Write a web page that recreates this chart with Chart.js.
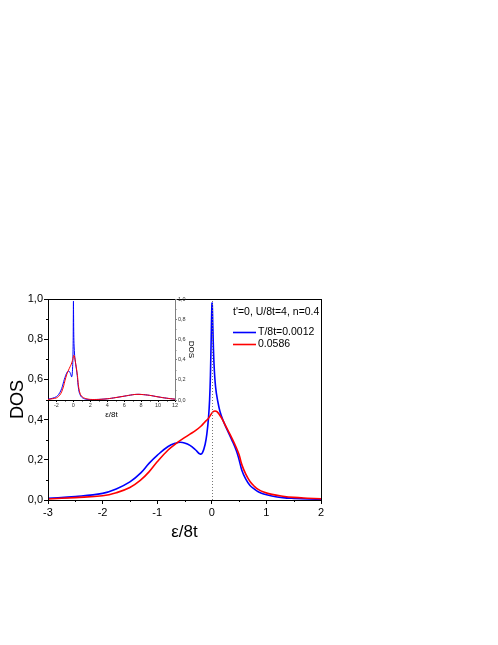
<!DOCTYPE html>
<html>
<head>
<meta charset="utf-8">
<script src="https://cdn.jsdelivr.net/npm/chart.js@4.4.0/dist/chart.umd.min.js"></script>
<style>
    html, body { margin: 0; padding: 0; background: #fff; }
    #quadro { position: relative; width: 498px; height: 645px; }
    canvas { position: absolute; left: 0; top: 0; }
</style>
</head>
<body>
<div id="quadro">
    <canvas id="graficoDOS" width="498" height="645"></canvas>
    <canvas id="graficoInset" width="498" height="645"></canvas>
</div>
<script>
// curva azul, T/8t=0.0012
const energiaAzul = [-3, -2.5, -2, -1.75, -1.5, -1.3, -1.15, -1, -0.8, -0.65, -0.58, -0.5, -0.4, -0.3, -0.215, -0.17, -0.12, -0.09, -0.06, -0.04, -0.025, -0.01, 0.005, 0.02, 0.04, 0.07, 0.11, 0.15, 0.2, 0.28, 0.37, 0.45, 0.5, 0.55, 0.62, 0.7, 0.78, 0.85, 0.95, 1.1, 1.3, 1.5, 1.75, 2];
const dosAzul = [0.008, 0.017, 0.033, 0.055, 0.09, 0.135, 0.182, 0.222, 0.266, 0.284, 0.287, 0.284, 0.272, 0.25, 0.229, 0.236, 0.28, 0.33, 0.41, 0.5, 0.62, 0.82, 0.98, 0.85, 0.68, 0.56, 0.49, 0.44, 0.40, 0.35, 0.297, 0.245, 0.2, 0.148, 0.105, 0.072, 0.054, 0.041, 0.03, 0.02, 0.012, 0.008, 0.005, 0.004];

// curva vermelha, T/8t=0.0586
const energiaVermelha = [-3, -2.5, -2, -1.75, -1.5, -1.3, -1.15, -1, -0.8, -0.65, -0.5, -0.4, -0.3, -0.2, -0.12, -0.08, -0.04, 0, 0.04, 0.1, 0.18, 0.27, 0.37, 0.45, 0.5, 0.55, 0.62, 0.7, 0.78, 0.85, 0.95, 1.1, 1.3, 1.5, 1.75, 2];
const dosVermelha = [0.005, 0.012, 0.021, 0.036, 0.062, 0.1, 0.14, 0.19, 0.249, 0.282, 0.31, 0.328, 0.345, 0.367, 0.39, 0.40, 0.415, 0.432, 0.442, 0.438, 0.407, 0.36, 0.307, 0.26, 0.225, 0.176, 0.13, 0.092, 0.068, 0.053, 0.04, 0.028, 0.019, 0.013, 0.009, 0.006];

// banda alta (so aparece no inset), igual nas duas temperaturas
const energiaCauda = [2.5, 3, 4, 5, 6, 7, 7.5, 8, 9, 10, 11, 12];
const dosCauda = [0.005, 0.006, 0.012, 0.024, 0.038, 0.052, 0.056, 0.055, 0.046, 0.031, 0.018, 0.008];

const rotulos = ['T/8t=0.0012', '0.0586'];
const tituloLegenda = "t'=0, U/8t=4, n=0.4";

const ticksMenoresX = [-2.5, -1.5, -0.5, 0.5, 1.5];
const ticksMenoresY = [0.1, 0.3, 0.5, 0.7, 0.9];
const ticksInsetX = [-2, 0, 2, 4, 6, 8, 10, 12];
const ticksMenoresInsetX = [-1, 1, 3, 5, 7, 9, 11];

const fonte = '"Liberation Sans", Arial, sans-serif';
Chart.defaults.font.family = fonte;
Chart.defaults.color = '#000';

function pontos(xs, ys) {
    return xs.map((x, i) => ({ x: x, y: ys[i] }));
}

function virgula(v) {
    return v.toFixed(1).replace('.', ',');
}

function alinha(p) {
    return Math.round(p) + 0.5;
}

function desenhaTicksMenores(ctx, escala, valores, tamanho, cor) {
    ctx.save();
    ctx.strokeStyle = cor;
    ctx.lineWidth = 1;
    ctx.beginPath();
    valores.forEach(v => {
        const p = alinha(escala.getPixelForValue(v));
        if (escala.isHorizontal()) {
            ctx.moveTo(p, escala.top);
            ctx.lineTo(p, escala.top + tamanho);
        } else if (escala.position === 'left') {
            ctx.moveTo(escala.right, p);
            ctx.lineTo(escala.right - tamanho, p);
        } else {
            ctx.moveTo(escala.left, p);
            ctx.lineTo(escala.left + tamanho, p);
        }
    });
    ctx.stroke();
    ctx.restore();
}

const molduraPrincipal = {
    id: 'molduraPrincipal',
    afterDraw(grafico) {
        const { ctx, chartArea: a, scales } = grafico;
        ctx.save();
        // linha pontilhada em zero
        const x0 = alinha(scales.x.getPixelForValue(0));
        ctx.strokeStyle = '#777';
        ctx.lineWidth = 1;
        ctx.setLineDash([1, 2]);
        ctx.beginPath();
        ctx.moveTo(x0, a.bottom);
        ctx.lineTo(x0, a.top);
        ctx.stroke();
        ctx.setLineDash([]);

        // caixa
        ctx.strokeStyle = '#000';
        ctx.strokeRect(alinha(a.left), alinha(a.top), Math.round(a.right - a.left), Math.round(a.bottom - a.top));
        ctx.restore();

        desenhaTicksMenores(ctx, scales.x, ticksMenoresX, 2, '#000');
        desenhaTicksMenores(ctx, scales.y, ticksMenoresY, 2, '#000');

        // legenda
        ctx.save();
        ctx.font = '10.5px ' + fonte;
        ctx.fillStyle = '#000';
        ctx.textBaseline = 'middle';
        ctx.fillText(tituloLegenda, 233, 312);
        grafico.data.datasets.forEach((ds, i) => {
            const y = 332.5 + i * 12;
            ctx.strokeStyle = ds.borderColor;
            ctx.lineWidth = 1.6;
            ctx.beginPath();
            ctx.moveTo(233, y);
            ctx.lineTo(256, y);
            ctx.stroke();
            ctx.fillText(ds.label, 258, y);
        });
        ctx.restore();
    }
};

const graficoDOS = new Chart(document.getElementById('graficoDOS'), {
    type: 'line',
    data: {
        datasets: [{
            label: rotulos[0],
            data: pontos(energiaAzul, dosAzul),
            borderColor: '#0000ff',
            borderWidth: 1.6,
            order: 1
        }, {
            label: rotulos[1],
            data: pontos(energiaVermelha, dosVermelha),
            borderColor: '#ff0000',
            borderWidth: 1.6,
            order: 0
        }]
    },
    options: {
        responsive: false,
        animation: false,
        devicePixelRatio: 1,
        elements: {
            point: { radius: 0 },
            line: { tension: 0.4 }
        },
        layout: { padding: { left: 0, top: 299, right: 177, bottom: 100 } },
        plugins: { legend: { display: false }, tooltip: { enabled: false } },
        scales: {
            x: {
                type: 'linear',
                min: -3,
                max: 2,
                afterFit: e => { e.height = 45; },
                ticks: { stepSize: 1, font: { size: 11 }, padding: 2, maxRotation: 0 },
                grid: { drawOnChartArea: false, tickLength: 4, color: '#000' },
                border: { display: false },
                title: { display: true, text: 'ε/8t', font: { size: 17 }, padding: { top: 0, bottom: 2 } }
            },
            y: {
                min: 0,
                max: 1,
                afterFit: e => { e.width = 48; },
                ticks: { stepSize: 0.2, font: { size: 11 }, padding: 1, callback: v => virgula(v) },
                grid: { drawOnChartArea: false, tickLength: 4, color: '#000' },
                border: { display: false },
                title: { display: true, text: 'DOS', font: { size: 18 }, padding: { top: 7, bottom: 0 } }
            }
        }
    },
    plugins: [molduraPrincipal]
});

const molduraInset = {
    id: 'molduraInset',
    afterDraw(grafico) {
        const { ctx, scales } = grafico;
        desenhaTicksMenores(ctx, scales.x, ticksMenoresInsetX, 1.5, '#000');
        desenhaTicksMenores(ctx, scales.y, ticksMenoresY, 1.5, '#808080');
    }
};

const graficoInset = new Chart(document.getElementById('graficoInset'), {
    type: 'line',
    data: {
        datasets: [{
            label: rotulos[0],
            data: pontos(energiaAzul.concat(energiaCauda), dosAzul.concat(dosCauda)),
            borderColor: '#0000ff',
            borderWidth: 1,
            order: 1
        }, {
            label: rotulos[1],
            data: pontos(energiaVermelha.concat(energiaCauda), dosVermelha.concat(dosCauda)),
            borderColor: '#ff0000',
            borderWidth: 1,
            order: 0
        }]
    },
    options: {
        responsive: false,
        animation: false,
        devicePixelRatio: 1,
        elements: {
            point: { radius: 0 },
            line: { tension: 0.4 }
        },
        layout: { padding: { left: 48, top: 299, right: 301, bottom: 225 } },
        plugins: { legend: { display: false }, tooltip: { enabled: false } },
        scales: {
            x: {
                type: 'linear',
                min: -3,
                max: 12,
                afterFit: e => { e.height = 20; },
                afterBuildTicks: e => { e.ticks = ticksInsetX.map(v => ({ value: v })); },
                ticks: { font: { size: 5.5 }, padding: 0.5, maxRotation: 0, color: '#333' },
                grid: { drawOnChartArea: false, tickLength: 2, color: '#000' },
                border: { display: true, color: '#000' },
                title: { display: true, text: 'ε/8t', font: { size: 8 }, padding: { top: 0, bottom: 0 } }
            },
            y: {
                position: 'right',
                min: 0,
                max: 1,
                afterFit: e => { e.width = 22; },
                ticks: { stepSize: 0.2, font: { size: 5.5 }, padding: 1, color: '#333', callback: v => virgula(v) },
                grid: { drawOnChartArea: false, tickLength: 2, color: '#808080' },
                border: { display: true, color: '#808080' },
                title: { display: true, text: 'DOS', font: { size: 8 }, padding: { top: 0.5, bottom: 0 } }
            }
        }
    },
    plugins: [molduraInset]
});
</script>
</body>
</html>
